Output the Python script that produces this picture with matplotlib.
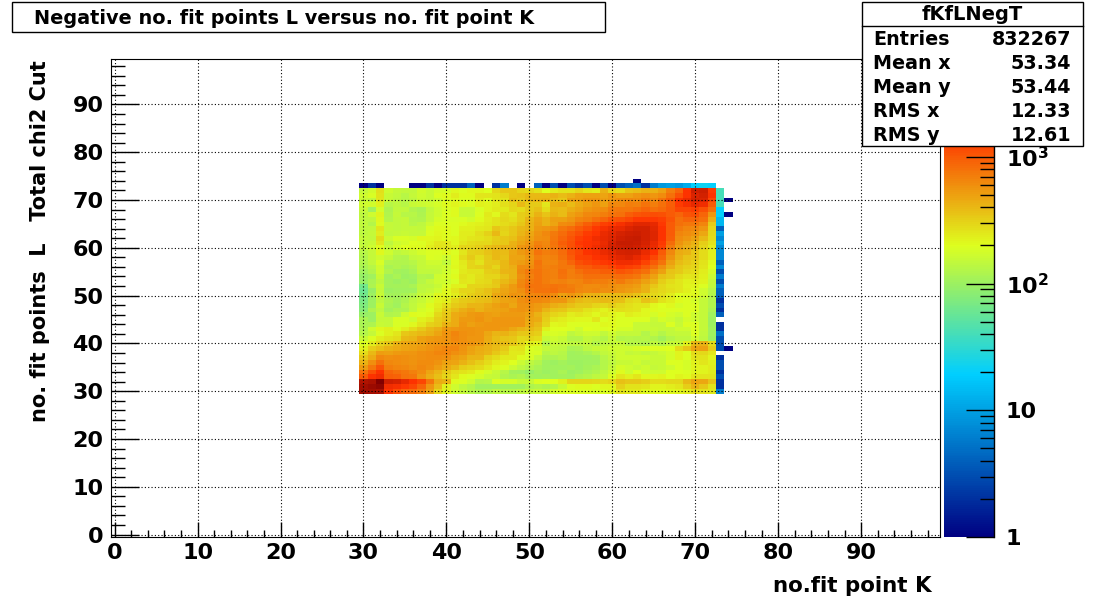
import numpy as np
import matplotlib
matplotlib.use("Agg")
import matplotlib.pyplot as plt
from matplotlib.colors import LinearSegmentedColormap, LogNorm
from matplotlib.patches import Rectangle
from matplotlib.ticker import LogLocator, NullFormatter, MultipleLocator

plt.rcParams["font.family"] = "DejaVu Sans"
plt.rcParams["font.weight"] = "bold"
plt.rcParams["mathtext.fontset"] = "dejavusans"

# counts per bin, rows are no. fit points L, columns no. fit point K
# left part is K = 30..51, right part is K = 52..72
l72 = [150,175,270,170,150,145,145,175,155,180,180,215,190,215,215,200,290,340,340,300,290,260]
l71 = [170,185,260,155,145,135,150,170,160,190,205,240,205,205,250,250,260,290,340,360,390,390]
l70 = [155,145,250,155,140,135,140,165,155,170,195,215,195,190,240,205,255,265,370,330,390,410]
l69 = [170,175,230,135,140,135,155,165,170,180,205,220,205,195,230,220,240,275,300,390,330,330]
l68 = [150,105,180,120,145,145,125,115,145,170,185,205,155,160,185,220,245,245,290,285,330,370]
l67 = [140,170,220,125,150,135,135,120,150,170,190,205,155,155,195,245,215,285,255,320,350,420]
l66 = [140,140,215,130,145,150,130,125,150,180,185,185,185,175,210,235,265,290,275,320,410,490]
l65 = [145,130,205,150,145,150,135,140,170,195,195,195,210,220,230,245,265,285,300,350,430,510]
l64 = [140,145,250,150,145,150,150,145,185,205,205,190,230,230,245,250,340,310,350,390,430,530]
l63 = [140,150,235,145,150,160,150,150,195,215,205,190,240,240,275,310,400,305,340,410,470,580]
l62 = [150,145,280,165,185,185,180,215,215,225,205,215,240,250,265,285,320,340,375,450,500,600]
l61 = [145,160,250,140,170,180,200,190,225,250,250,215,250,280,290,290,330,350,420,490,550,680]
l60 = [150,170,205,160,180,200,205,205,235,265,250,235,300,300,320,365,395,425,445,550,600,730]
l59 = [135,150,215,170,140,150,165,180,190,195,215,195,250,315,325,355,400,380,465,530,590,780]
l58 = [125,150,170,150,130,125,150,155,190,185,170,205,280,335,285,330,395,370,480,480,560,700]
l57 = [125,145,185,130,125,125,135,150,170,170,145,205,245,300,265,330,350,395,490,520,580,780]
l56 = [115,135,170,115,125,115,125,150,160,155,170,215,240,300,310,345,305,395,440,620,620,760]
l55 = [105,125,170,125,110,105,115,145,145,150,170,195,245,265,265,320,330,410,420,640,720,780]
l54 = [95,105,160,105,115,100,105,130,125,170,180,205,265,245,275,300,300,355,425,590,690,780]
l53 = [95,115,140,110,100,110,100,135,150,170,170,185,255,245,280,290,345,400,450,630,740,780]
l52 = [65,120,160,110,110,110,115,140,140,160,185,230,230,300,300,310,330,450,530,670,780,780]
l51 = [60,95,150,100,105,105,105,140,150,170,215,250,300,300,335,370,430,490,530,590,740,780]
l50 = [65,100,160,110,110,115,130,160,170,215,215,240,285,325,345,360,470,510,580,560,640,660]
l49 = [70,100,140,120,110,120,140,160,180,225,235,300,335,350,365,385,440,480,510,590,640,640]
l48 = [75,100,160,115,105,130,145,170,205,235,280,335,360,410,410,450,500,540,470,570,570,530]
l47 = [80,120,140,110,120,120,145,180,195,250,320,380,440,480,430,470,490,500,560,570,550,520]
l46 = [95,100,160,125,130,170,205,190,215,290,350,450,480,530,550,520,500,540,530,530,510,430]
l45 = [115,100,150,150,185,185,170,230,250,320,360,460,530,530,580,520,550,550,550,550,470,460]
l44 = [115,120,160,150,185,185,215,255,310,330,420,460,550,500,530,560,560,560,560,550,460,400]
l43 = [120,170,215,230,205,240,280,330,400,440,530,550,570,570,560,560,560,530,470,420,400,360]
l42 = [130,150,195,230,250,340,370,390,420,490,580,650,600,570,560,470,410,420,380,350,340,320]
l41 = [160,195,240,265,285,390,410,510,540,560,580,640,590,560,550,450,380,360,340,290,300,280]
l40 = [195,240,300,345,420,470,490,510,550,570,580,620,600,570,530,440,400,380,340,290,240,225]
l39 = [230,320,370,420,450,490,510,540,570,620,660,670,570,500,460,420,380,330,250,265,195,180]
l38 = [280,390,520,510,540,560,560,590,620,660,660,600,560,490,440,410,340,300,245,245,185,185]
l37 = [340,460,640,600,610,590,570,590,610,610,590,520,490,410,410,310,280,245,245,210,185,150]
l36 = [430,590,820,640,620,590,580,610,620,580,510,480,420,365,320,280,235,225,200,165,140,130]
l35 = [530,760,1050,700,670,630,600,640,590,520,450,400,320,305,285,245,215,195,165,140,130,115]
l34 = [780,1080,1500,880,820,750,690,610,490,410,335,280,260,245,205,180,160,135,110,105,95,110]
l33 = [1000,1500,1700,950,930,790,760,550,445,375,300,250,205,195,180,160,150,125,115,125,110,105]
l32 = [3500,3800,5930,2500,2300,1900,1500,1200,750,450,420,210,190,170,130,135,190,180,180,160,160,190]
l31 = [4000,4500,5000,1700,1600,1400,1200,900,560,380,230,170,140,130,105,105,105,105,105,105,120,130]
l30 = [4200,4000,3800,1500,1150,900,850,700,500,300,220,170,150,135,120,125,140,135,135,140,150,155]

r72 = [200,240,260,260,300,250,240,420,300,280,360,380,420,430,500,700,900,1500,2500,2600,1400]
r71 = [400,420,380,420,480,500,500,480,560,500,500,560,600,560,620,800,1100,1500,2200,2400,1500]
r70 = [420,380,350,500,500,560,560,520,560,620,640,620,700,640,780,1000,1500,1800,2300,2200,1200]
r69 = [250,420,440,380,460,500,560,500,640,640,700,680,780,700,800,950,1350,1600,1900,1700,1000]
r68 = [280,400,380,440,480,560,600,620,720,760,760,800,900,820,860,1000,1200,1200,1300,1100,800]
r67 = [360,420,380,500,560,640,650,700,780,800,950,1050,1100,1150,1100,1000,900,1050,1100,900,550]
r66 = [420,500,500,560,650,700,800,900,1050,1100,1200,1400,1400,1400,1300,1050,800,900,900,800,440]
r65 = [420,480,620,640,800,950,1150,1300,1400,1600,1800,2000,2000,1900,1400,1000,800,750,760,650,330]
r64 = [560,600,760,850,1000,1150,1400,1600,1800,1900,2200,2400,2400,2000,1500,1000,720,660,630,560,300]
r63 = [640,720,850,1000,1150,1350,1500,1800,2000,2300,2500,2600,2400,2100,1500,1000,650,620,570,470,290]
r62 = [620,750,900,1050,1300,1450,1700,1900,2100,2500,2700,2800,2400,2100,1500,950,610,560,500,400,280]
r61 = [640,780,950,1100,1400,1500,1600,1800,2300,2800,2800,2700,2300,1900,1400,850,570,490,430,320,260]
r60 = [650,750,900,1100,1300,1500,1700,1900,2300,2600,2700,2500,2200,1800,1300,720,520,440,390,300,240]
r59 = [700,720,850,1050,1200,1500,1600,1800,2000,2300,2400,2300,1800,1500,1000,640,450,420,350,280,230]
r58 = [650,680,800,1000,1250,1300,1500,1600,1800,2000,2200,1900,1600,1200,900,570,420,360,340,280,230]
r57 = [650,650,750,900,1100,1200,1300,1400,1500,1700,1700,1600,1250,1000,780,510,380,340,310,260,210]
r56 = [680,700,760,750,950,1000,1100,1100,1200,1400,1300,1200,1000,800,600,440,350,310,300,250,200]
r55 = [700,680,800,700,800,900,900,950,950,1050,1000,900,800,620,500,360,330,290,280,240,180]
r54 = [700,680,780,700,720,800,820,800,800,850,800,750,620,500,370,330,280,250,260,230,165]
r53 = [700,660,680,640,650,720,700,700,660,720,640,600,500,420,320,280,250,230,240,225,150]
r52 = [760,780,750,700,650,620,620,640,600,580,560,520,430,340,290,260,250,225,220,190,145]
r51 = [780,800,720,720,640,620,640,600,600,560,520,480,420,310,290,270,250,230,210,170,135]
r50 = [680,620,500,560,500,420,420,380,380,400,400,360,310,290,270,240,200,210,215,170,130]
r49 = [620,560,560,450,400,365,385,400,385,365,305,280,360,325,260,240,205,190,180,150,125]
r48 = [510,440,410,365,335,335,305,290,325,295,270,250,250,215,200,215,180,190,190,150,125]
r47 = [410,360,340,305,305,260,245,225,250,270,260,250,215,205,195,190,190,195,195,150,115]
r46 = [350,305,285,235,250,235,215,240,225,205,235,225,215,180,205,180,170,190,170,150,105]
r45 = [325,250,240,225,215,215,250,190,215,190,190,195,190,160,180,170,150,180,170,150,100]
r44 = [305,215,225,190,195,195,190,215,205,190,190,160,160,150,150,190,160,190,190,150,100]
r43 = [230,200,200,190,170,200,190,190,200,180,180,160,160,160,150,150,170,170,190,150,105]
r42 = [180,185,180,140,160,170,170,145,170,150,150,150,130,145,130,145,150,150,190,145,105]
r41 = [160,170,160,130,130,150,140,130,160,130,135,130,135,125,110,130,140,140,170,140,100]
r40 = [130,160,150,140,140,150,130,140,150,160,135,135,125,140,130,150,160,230,400,420,280]
r39 = [150,145,140,115,120,140,160,160,170,170,170,180,190,190,190,200,280,340,490,510,320]
r38 = [135,140,135,105,110,115,130,145,155,170,150,160,145,150,165,180,220,190,285,295,255]
r37 = [120,120,130,105,105,105,110,135,150,170,170,170,170,160,160,180,220,190,265,265,220]
r36 = [105,100,110,100,100,105,105,130,140,160,160,170,150,160,160,190,190,180,230,250,230]
r35 = [105,105,105,110,100,110,115,130,150,180,170,160,170,150,160,170,190,180,220,220,240]
r34 = [100,105,115,100,105,115,125,140,170,205,170,200,170,170,170,200,200,190,220,220,240]
r33 = [110,105,110,105,120,130,140,150,190,255,230,255,215,215,220,200,220,205,250,250,250]
r32 = [200,200,230,300,300,300,290,280,300,375,340,340,320,285,285,295,295,395,490,470,360]
r31 = [120,130,160,195,205,205,190,215,215,310,265,265,250,225,225,235,250,320,410,340,265]
r30 = [150,175,185,190,195,195,185,195,215,265,245,245,215,215,205,215,225,240,275,265,245]

left_rows = [l30,l31,l32,l33,l34,l35,l36,l37,l38,l39,l40,l41,l42,l43,l44,l45,l46,l47,l48,l49,l50,
             l51,l52,l53,l54,l55,l56,l57,l58,l59,l60,l61,l62,l63,l64,l65,l66,l67,l68,l69,l70,l71,l72]
right_rows = [r30,r31,r32,r33,r34,r35,r36,r37,r38,r39,r40,r41,r42,r43,r44,r45,r46,r47,r48,r49,r50,
              r51,r52,r53,r54,r55,r56,r57,r58,r59,r60,r61,r62,r63,r64,r65,r66,r67,r68,r69,r70,r71,r72]

# K = 73 for L = 30..72, and L = 73 for K = 30..72
col73 = [6,2,2,3,2,3,3,2,0,3,3,3,5,2,2,0,4,2,3,2,4,4,6,3,6,3,7,4,7,7,7,10,7,10,4,14,14,20,20,40,40,40,40]
row73 = [1,2,1,0,0,0,1,1,2,1,2,2,2,4,1,0,2,6,0,1,0,4,1,3,1,3,2,3,1,3,1,3,4,5,2,6,9,10,9,12,20,22,20]
# lone bins: K, L, count
lone_k = [74, 74, 74, 63]
lone_l = [70, 67, 39, 74]
lone_n = [1, 1, 1, 1]

stat_names = ["Entries", "Mean x", "Mean y", "RMS x", "RMS y"]
stat_values = ["832267", "53.34", "53.44", "12.33", "12.61"]

counts = np.zeros((100, 100))
for i, (a, b) in enumerate(zip(left_rows, right_rows)):
    counts[30 + i, 30:73] = a + b
counts[30:73, 73] = col73
counts[73, 30:73] = row73
counts[lone_l, lone_k] = lone_n

W, H = 1105, 597
fig = plt.figure(figsize=(W / 100, H / 100), dpi=100)
ax = fig.add_axes([110.5 / W, 1 - 537 / H, (940 - 110.5) / W, (537 - 59) / H])

# the root colour gradient
stops = [0, 0.34, 0.61, 0.84, 1]
red = [0, 0, 0.87, 1, 0.51]
green = [0, 0.81, 1, 0.2, 0]
blue = [0.51, 1, 0.12, 0, 0]
cmap = LinearSegmentedColormap.from_list("root", list(zip(stops, zip(red, green, blue))), N=255)
cmap.set_bad("white")

edges = np.arange(-0.5, 100.5)
mesh = ax.pcolormesh(edges, edges, np.ma.masked_equal(counts, 0), cmap=cmap,
                     norm=LogNorm(1, 5930), zorder=1, rasterized=True)

ax.set_xlim(-0.5, 99.5)
ax.set_ylim(-0.5, 99.5)
ax.set_xticks(np.arange(0, 100, 10))
ax.set_yticks(np.arange(0, 100, 10))
ax.xaxis.set_minor_locator(MultipleLocator(2))
ax.yaxis.set_minor_locator(MultipleLocator(2))
ax.tick_params(axis="x", which="major", direction="in", length=10.5, width=1, labelsize=16, pad=4)
ax.tick_params(axis="x", which="minor", direction="in", length=5, width=1)
ax.tick_params(axis="y", which="major", direction="in", length=20.5, width=1, labelsize=16, pad=5)
ax.tick_params(axis="y", which="minor", direction="in", length=10, width=1)
ax.grid(True, which="major", color="black", linestyle=(0, (1, 2)), linewidth=0.8, zorder=2)
ax.set_axisbelow(False)

fig.text(932 / W, 1 - 586 / H, "no.fit point K", ha="right", va="center", fontsize=15.4)
fig.text(40 / W, 1 - 60 / H, "no. fit points  L   Total chi2 Cut", rotation=90,
         ha="center", va="top", fontsize=15)

cax = fig.add_axes([944 / W, 1 - 537 / H, 50.5 / W, (537 - 59) / H])
cbar = fig.colorbar(mesh, cax=cax)
cbar.outline.set_visible(False)
cax.spines["right"].set_visible(True)
cax.spines["right"].set_linewidth(1)
cbar.set_ticks([1, 10, 100, 1000])
cbar.set_ticklabels(["1", "10", r"$\mathbf{10^{2}}$", r"$\mathbf{10^{3}}$"])
cax.yaxis.set_minor_locator(LogLocator(base=10, subs=np.arange(2, 10), numticks=10))
cax.yaxis.set_minor_formatter(NullFormatter())
cax.tick_params(axis="y", which="major", direction="in", length=20, width=1, labelsize=16, pad=8)
cax.tick_params(axis="y", which="minor", direction="in", length=10, width=1)

# title box
fig.add_artist(Rectangle((11.5 / W, 1 - 32 / H), 593 / W, 30 / H, transform=fig.transFigure,
                         facecolor="white", edgecolor="black", linewidth=1, zorder=5))
fig.text(34 / W, 1 - 18.5 / H, "Negative no. fit points L versus no. fit point K",
         ha="left", va="center", fontsize=13.85, zorder=6)

# stats box
fig.add_artist(Rectangle((861.5 / W, 1 - 146.5 / H), 221.5 / W, 144.5 / H, transform=fig.transFigure,
                         facecolor="white", edgecolor="black", linewidth=1, zorder=5))
fig.add_artist(plt.Line2D([861.5 / W, 1083 / W], [1 - 26 / H, 1 - 26 / H], transform=fig.transFigure,
                          color="black", linewidth=1, zorder=6))
fig.text(972 / W, 1 - 14.5 / H, "fKfLNegT", ha="center", va="center", fontsize=14, zorder=6)
for i, (name, value) in enumerate(zip(stat_names, stat_values)):
    y = 1 - (39.5 + 24 * i) / H
    fig.text(873 / W, y, name, ha="left", va="center", fontsize=13.8, zorder=6)
    fig.text(1071 / W, y, value, ha="right", va="center", fontsize=13.8, zorder=6)

fig.savefig("out.png", dpi=100)
